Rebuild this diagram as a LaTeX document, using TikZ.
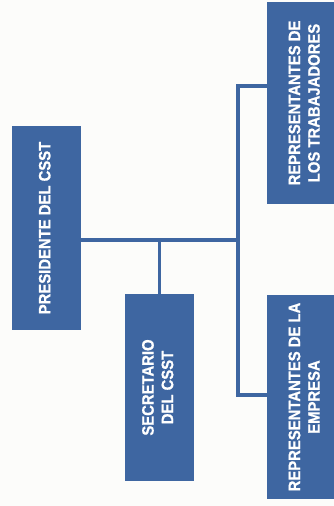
\documentclass[tikz,border=0pt]{standalone}
\usepackage{fontspec}
\setmainfont[BoldFeatures={FakeBold=0.8}]{Liberation Sans}
\definecolor{boxblue}{HTML}{3E66A1}
\definecolor{paper}{HTML}{FCFCFA}
\newcommand{\vtext}[1]{\rotatebox{90}{\scalebox{0.9}[1]{\begin{tabular}{@{}c@{}}#1\end{tabular}}}}
\begin{document}
\begin{tikzpicture}[x=1pt,y=-1pt,
  orgbox/.style={fill=boxblue, draw=none, inner sep=0pt, text=white,
    font=\fontsize{16.5}{19.5}\selectfont\bfseries},
  link/.style={draw=boxblue, line width=3.5pt}]
\path[fill=paper] (0,0) rectangle (334,506);
\useasboundingbox (0,0) rectangle (334,506);
\node[orgbox, minimum width=69pt, minimum height=204pt] (pres) at (46.5,228)
  {\vtext{PRESIDENTE DEL CSST}};
\node[orgbox, minimum width=69pt, minimum height=187pt] (sec) at (159.5,387.5)
  {\vtext{SECRETARIO\\DEL CSST}};
\node[orgbox, minimum width=78pt, minimum height=202pt] (trab) at (306,103)
  {\vtext{REPRESENTANTES DE\\LOS TRABAJADORES}};
\node[orgbox, minimum width=78pt, minimum height=204pt] (emp) at (306,397)
  {\vtext{REPRESENTANTES DE LA\\EMPRESA}};
\coordinate (J) at (238,240);
\coordinate (T) at (238,86);
\coordinate (E) at (238,395);
\draw[link] (pres.east |- J) -- (J);
\draw[link] (T -| trab.west) -- (T) -- (E) -- (E -| emp.west);
\draw[link] (sec.north) -- (sec.north |- J);
\end{tikzpicture}
\end{document}
